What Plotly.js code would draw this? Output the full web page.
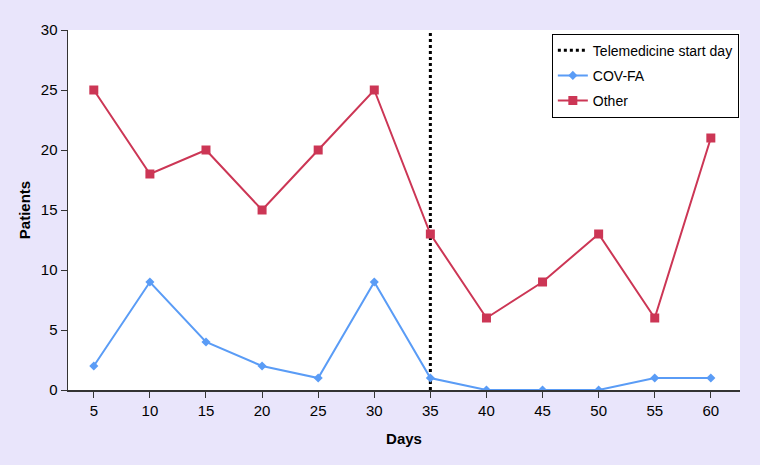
<!DOCTYPE html>
<html><head><meta charset="utf-8">
<script src="https://cdn.plot.ly/plotly-3.0.1.min.js"></script>
<style>html,body{margin:0;padding:0;background:#e9e5fb;}#chart{width:760px;height:465px;}</style>
</head><body><div id="chart"></div>
<script>
const days = [5,10,15,20,25,30,35,40,45,50,55,60];
const covfa = [2,9,4,2,1,9,1,0,0,0,1,1];
const other = [25,18,20,15,20,25,13,6,9,13,6,21];
const startDay = 35;
const yRange = [0,30];

const traces = [
  {x:[startDay,startDay], y:yRange, mode:'lines', name:'Telemedicine start day', legendgroup:'a',
   line:{color:'#000000', width:3, dash:'dot'}, hoverinfo:'skip'},
  {x:days, y:covfa, mode:'lines+markers', name:'COV-FA', legendgroup:'b',
   line:{color:'#5a9cf6', width:2}, marker:{symbol:'diamond', size:7, color:'#5a9cf6'}},
  {x:days, y:other, mode:'lines+markers', name:'Other', legendgroup:'c',
   line:{color:'#cc3655', width:2}, marker:{symbol:'square', size:9, color:'#cc3655'}}
];
const fam = 'Liberation Sans, Arial, sans-serif';
const layout = {
  width:760, height:465,
  paper_bgcolor:'#e9e5fb', plot_bgcolor:'#ffffff',
  margin:{l:68, r:20, t:30, b:75},
  font:{family:fam, size:15, color:'#000'},
  showlegend:true,
  legend:{x:0.72, y:0.99, xanchor:'left', yanchor:'top', bgcolor:'#ffffff',
    bordercolor:'#000', borderwidth:1, font:{family:fam, size:14, color:'#000'}, tracegroupgap:4,
    itemwidth:30},
  xaxis:{range:[2.7,62.6], tickvals:days, ticks:'outside', ticklen:6, tickcolor:'#333',
    showline:true, linecolor:'#333', linewidth:1.5, showgrid:false, zeroline:false,
    tickfont:{size:15},
    title:{text:'<b>Days</b>', font:{family:fam, size:15}, standoff:16}},
  yaxis:{range:yRange, dtick:5, ticks:'outside', ticklen:6, tickcolor:'#333',
    showline:true, linecolor:'#333', linewidth:1.5, showgrid:false, zeroline:false,
    tickfont:{size:15},
    title:{text:'<b>Patients</b>', font:{family:fam, size:15}, standoff:6}}
};
Plotly.newPlot('chart', traces, layout, {displayModeBar:false, staticPlot:true});
</script></body></html>
